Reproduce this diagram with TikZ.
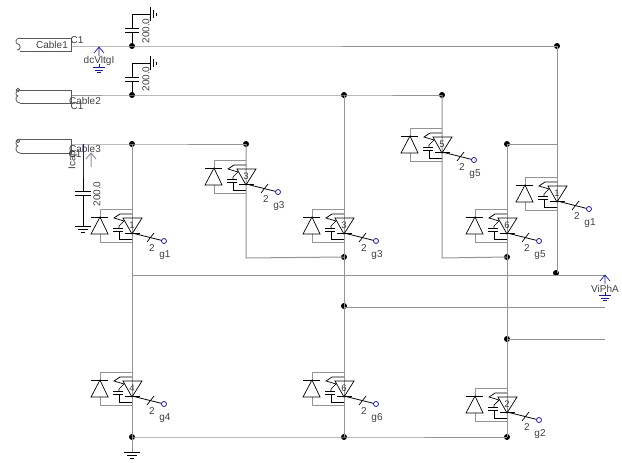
\documentclass[tikz,border=0pt]{standalone}
\usepackage{fontspec}
\setmainfont{Liberation Sans}
\definecolor{wire}{gray}{0.58}
\definecolor{probe}{rgb}{0.1,0.1,0.6}
\definecolor{lbl}{gray}{0.25}
\tikzset{
  x=1pt,y=-1pt,
  wireline/.style={draw=wire,line width=1pt},
  darkwire/.style={draw=black!65,line width=0.8pt},
  sym/.style={draw=black,line width=0.7pt},
  dot/.style={circle,fill=black,inner sep=0pt,minimum size=6pt},
  lab/.style={inner sep=0pt,font=\fontsize{10}{11}\selectfont,text=lbl},
  pics/igbt/.style n args={3}{code={
    \draw[wire,line width=0.9pt] (-32,8)--(-32,0)--(0,0);
    \draw[wire,line width=0.9pt] (-32,25)--(-32,33)--(0,33);
    \draw[sym] (-41,8)--(-24,8);
    \draw[sym] (-32,8)--(-41,25)--(-24,25)--cycle;
    \draw[sym] (-9,9)--(10,9)--(0,25)--cycle;
    \draw[sym] (0,5)--(-12,5)--(-18,9)--(-8,12)--(-13,17)--(-13,19);
    \draw[sym] (-19,19)--(-9,19) (-19,22)--(-9,22);
    \draw[sym] (-13,22)--(-13,30)--(0,30);
    \draw[sym] (-7,24)--(8,24);
    \draw[black,line width=0.8pt] (0,24)--(29.7,31.4);
    \draw[sym] (15,33)--(22,24);
    \draw[probe,line width=0.8pt] (32,32) circle[radius=2.5];
    \node[lab,font=\fontsize{9.5}{10}\selectfont] at (0,16) {#1};
    \node[lab] at (20,39) {#2};
    \node[lab] at (33,46) {#3};
  }},
  pics/gnd/.style={code={
    \draw[sym] (-8,0)--(8,0) (-5,3)--(5,3) (-2,6)--(2,6);
  }},
  pics/gndr/.style={code={
    \draw[sym] (0,-7)--(0,7) (3.5,-4)--(3.5,4) (6,-1.5)--(6,1.5);
  }},
  pics/vprobe/.style n args={1}{code={
    \draw[probe,line width=0.7pt] (-5,6)--(0,0)--(5,6) (0,0)--(0,9);
    \draw[probe,line width=0.7pt] (0,17)--(0,20) (-6,20)--(6,20) (-4,23)--(4,23) (-2,25)--(2,25);
    \node[lab] at (0,13.5) {#1};
  }},
}
\begin{document}
\begin{tikzpicture}
\useasboundingbox[fill=white] (0,0) rectangle (622,463);
% junctions
\node[dot] (a1) at (132,46) {};
\node[dot] (a2) at (557,46) {};
\node[dot] (b1) at (132,95) {};
\node[dot] (b2) at (344,95) {};
\node[dot] (b3) at (442,95) {};
\node[dot] (c1) at (132,144) {};
\node[dot] (c2) at (246,144) {};
\node[dot] (e1) at (507,144) {};
\node[dot] (f1) at (344,257) {};
\node[dot] (f2) at (507,257) {};
\node[dot] (g1) at (556,273) {};
\node[dot] (h1) at (344,306) {};
\node[dot] (h2) at (507,339) {};
\node[dot] (j1) at (132,437) {};
\node[dot] (j2) at (344,437) {};
\node[dot] (j3) at (507,437) {};
% free ends
\coordinate (k1) at (71,46);
\coordinate (k2) at (71,95);
\coordinate (k3) at (71,144);
\coordinate (m1) at (132,275);
\coordinate (m2) at (605,275);
\coordinate (m3) at (605,307);
\coordinate (m4) at (605,339);
\coordinate (n1) at (246,258);
\coordinate (n2) at (442,258);
\coordinate (n3) at (557,144);
\coordinate (gndb) at (132,452);
\coordinate (capc) at (83,144);
% wiring
\draw[wireline] (k1)--(a1.center)--(a2.center);
\draw[wireline] (k2)--(b1.center)--(b2.center)--(b3.center);
\draw[wireline] (k3)--(c1.center)--(c2.center);
\draw[wireline] (c1.center)--(j1.center);
\draw[wireline] (c2.center)--(n1)--(f1.center);
\draw[wireline] (b2.center)--(j2.center);
\draw[wireline] (b3.center)--(n2)--(f2.center);
\draw[wireline] (e1.center)--(n3);
\draw[wireline] (e1.center)--(j3.center);
\draw[wireline] (a2.center)--(557,273);
\draw[wireline] (m1)--(m2);
\draw[wireline] (344,307)--(m3);
\draw[wireline] (h2.center)--(m4);
\draw[wireline] (j1.center)--(j2.center)--(j3.center);
\draw[wireline] (j1.center)--(gndb);
\pic at (gndb) {gnd};
% cables
\draw[darkwire] (20,38)--(71,38)--(71,51)--(20,51);
\draw[darkwire] (20,38) .. controls (15,38) and (15,44) .. (18,44) .. controls (21,44) and (21,51) .. (17,50);
\draw[darkwire] (20,90)--(71,90)--(71,103)--(20,103);
\draw[darkwire] (20,90) .. controls (15,90) and (15,96) .. (18,96) .. controls (15,96) and (15,103) .. (20,103);
\draw[darkwire] (18,90) circle[radius=1.8];
\draw[darkwire] (20,139)--(71,139)--(71,153)--(20,153);
\draw[darkwire] (20,139) .. controls (15,139) and (15,146) .. (18,146) .. controls (15,146) and (15,153) .. (20,153);
\draw[darkwire] (18,141) circle[radius=1.8];
\node[lab] at (52,45) {Cable1};
\node[lab] at (77,40) {C1};
\node[lab] at (85,101) {Cable2};
\node[lab] at (77,106) {C1};
\node[lab] at (85,149) {Cable3};
\node[lab] at (75,154) {C1};
% dc link caps
\draw[sym] (a1.center)--(132,32) (125,32)--(139,32) (125,28)--(139,28) (132,28)--(132,14)--(150,14);
\pic at (150,14) {gndr};
\node[lab,rotate=90] at (146,31) {200.0};
\draw[sym] (b1.center)--(132,81) (125,81)--(139,81) (125,77)--(139,77) (132,77)--(132,63)--(150,63);
\pic at (150,63) {gndr};
\node[lab,rotate=90] at (146,79) {200.0};
\pic at (99,47) {vprobe={dcVltgI}};
% phase cap
\draw[draw=probe,line width=0.8pt] (capc)--(83,178);
\draw[sym] (83,178)--(83,191) (75,191)--(91,191) (75,195)--(91,195) (83,195)--(83,226);
\pic at (83,226) {gnd};
\node[lab,rotate=90] at (97,194) {200.0};
\node[lab,rotate=90] at (73,160) {Icap};
\draw[wireline] (91,167)--(91,153) (86,159)--(91,153)--(96,159);
% switches
\pic at (132,209) {igbt={1}{2}{g1}};
\pic at (246,160) {igbt={3}{2}{g3}};
\pic at (344,209) {igbt={3}{2}{g3}};
\pic at (442,128) {igbt={5}{2}{g5}};
\pic at (507,209) {igbt={6}{2}{g5}};
\pic at (557,177) {igbt={1}{2}{g1}};
\pic at (132,372) {igbt={4}{2}{g4}};
\pic at (344,372) {igbt={6}{2}{g6}};
\pic at (507,388) {igbt={2}{2}{g2}};
\pic at (605,275) {vprobe={ViPhA}};
\end{tikzpicture}
\end{document}
